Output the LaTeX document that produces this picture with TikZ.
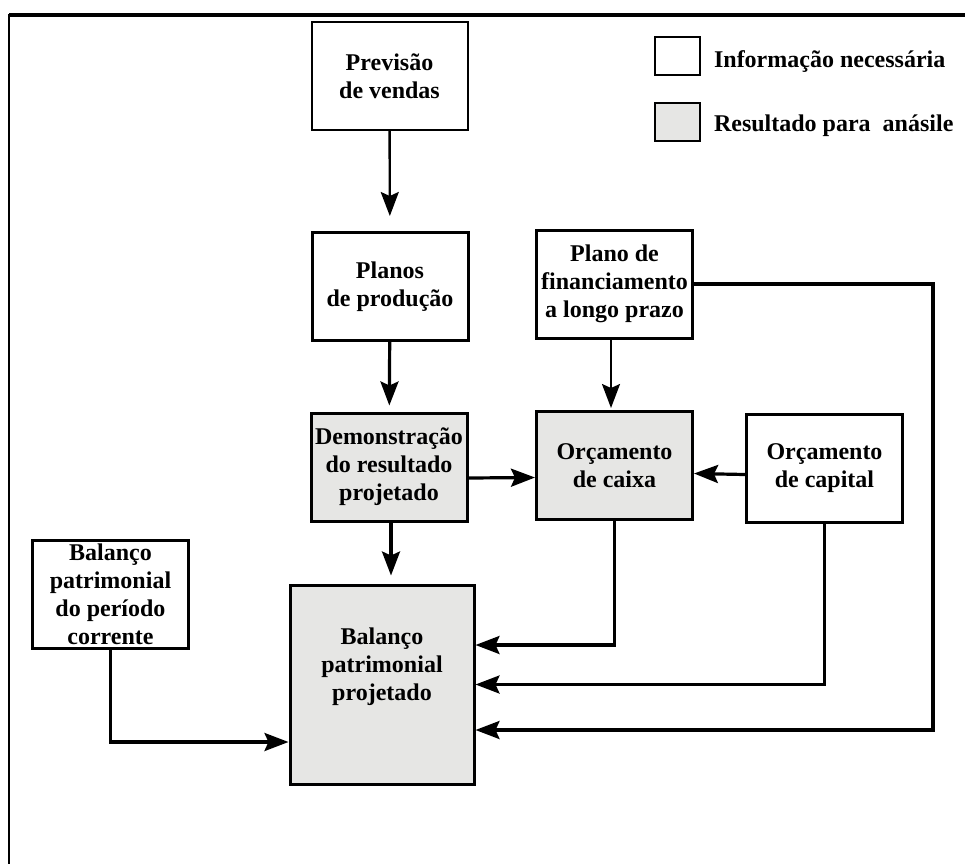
\documentclass[tikz,border=0pt]{standalone}
\usepackage{fontspec}
\setmainfont{Liberation Serif}
\usepackage{tikz}
\usetikzlibrary{arrows.meta,calc,positioning}
\definecolor{resgray}{RGB}{230,230,228}
\tikzset{
  infobox/.style={draw, line width=1.5pt, fill=white, align=center, inner sep=1pt,
    font=\bfseries\fontsize{12}{14}\selectfont, minimum width=78pt, minimum height=54pt},
  resbox/.style={infobox, fill=resgray},
  flow/.style={line width=1.6pt, -{Stealth[length=12pt,width=9pt,inset=2pt]}},
  thinflow/.style={line width=1pt, -{Stealth[length=12pt,width=9pt,inset=2pt]}}
}

\begin{document}
\begin{tikzpicture} [x=0.5pt,y=-0.5pt]
      \useasboundingbox (0,0) rectangle (965,864);
      \draw[line width=1.6pt] (965,15) -- (9,15);
      \draw[line width=1pt] (9,14) -- (9,864);
      \node[infobox, line width=1pt] (prev) at (389.5,76) {Previsão\\de vendas};
      \node[infobox] (plan) at (390,286.5) {Planos\\de produção};
      \node[infobox] (fin) at (614.5,284) {Plano de\\financiamento\\a longo prazo};
      \node[resbox] (demo) at (389,467) {Demonstração\\do resultado\\projetado};
      \node[resbox] (caixa) at (614.5,465.5) {Orçamento\\de caixa};
      \node[infobox] (capital) at (824.5,468.5) {Orçamento\\de capital};
      \node[resbox, minimum width=92pt, minimum height=99.5pt] (proj) at (382,684.5) {Balanço\\patrimonial\\projetado\\[6pt]};
      \node[infobox] (corr) at (110.5,594.5) {Balanço\\patrimonial\\do período\\corrente};
      % legenda
      \node[draw, line width=1pt, minimum width=22.5pt, minimum height=19pt] (leginfo) at (677.5,56) {};
      \node[draw, line width=1pt, fill=resgray, minimum width=22.5pt, minimum height=19pt] (legres) at (677.5,122) {};
      \node[right=3pt of leginfo, font=\bfseries\fontsize{12}{14}\selectfont, yshift=-3pt] (txtinfo) {Informação necessária};
      \node[right=3pt of legres, font=\bfseries\fontsize{12}{14}\selectfont, yshift=-2pt] (txtres) {Resultado para~~anásile};
      % setas
      \draw[flow, line width=1.2pt, shorten >=7.5pt] (prev) -- (plan);
      \draw[flow, shorten >=3pt] (plan) -- (demo);
      \draw[thinflow, shorten >=1pt] ([xshift=-1.75pt]fin.south) -- ([xshift=-1.75pt]caixa.north);
      \draw[flow] ([yshift=-5.5pt]demo.east) -- ([yshift=-6pt]caixa.west);
      \draw[flow] ([yshift=-3pt]capital.west) -- ([yshift=-4pt]caixa.east);
      \draw[flow, shorten >=4pt] ([xshift=1pt]demo.south) -- ([xshift=4.5pt]proj.north);
      \draw[flow] (corr.south) |- ([yshift=-28.75pt]proj.west);
      \draw[flow] (caixa.south) |- ([yshift=19.75pt]proj.east);
      \draw[flow] (capital.south) |- (proj.east);
      \coordinate (fincorner) at (933,730);
      \draw[flow] (fin.east) -| (fincorner) -- ([yshift=-22.75pt]proj.east);
    \end{tikzpicture}
\end{document}
